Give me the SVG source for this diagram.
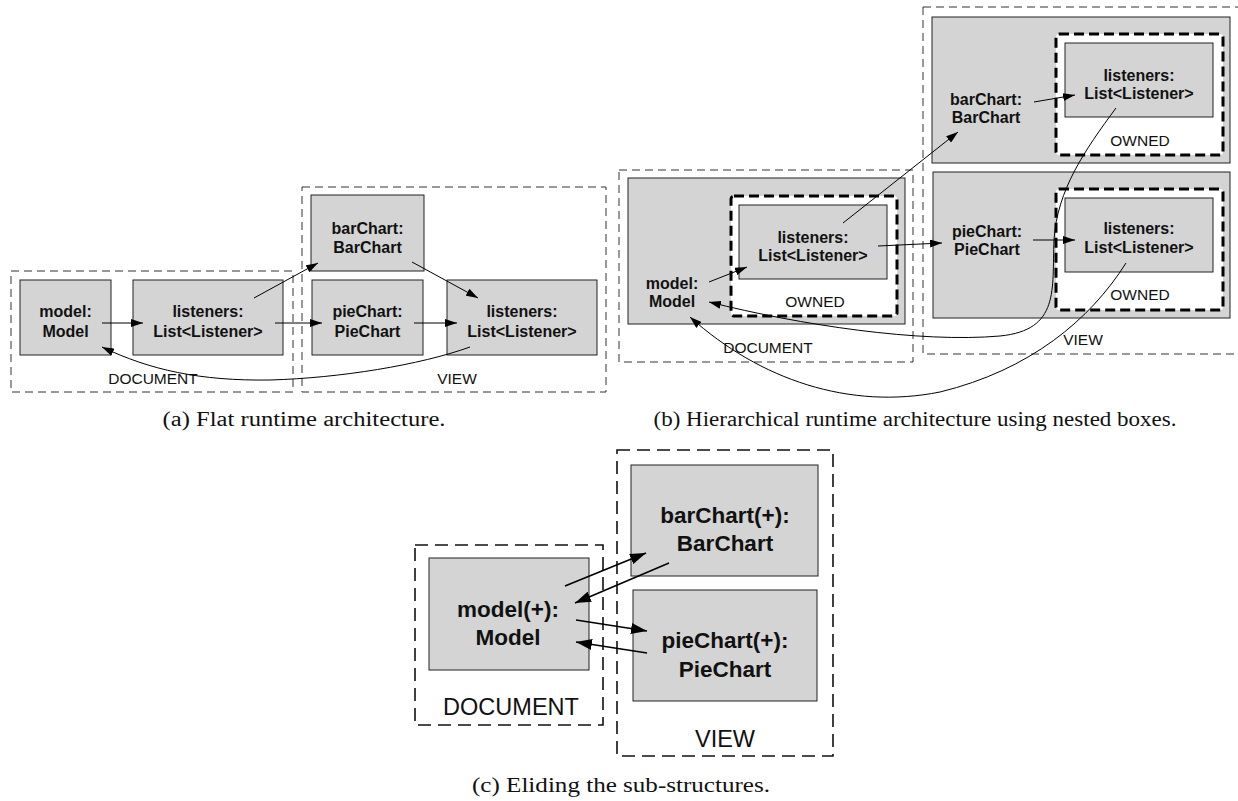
<svg xmlns="http://www.w3.org/2000/svg" width="1238" height="801" viewBox="0 0 1238 801">
  <style>
    .bg { fill: #ffffff; }
    .box { fill: #d4d4d4; stroke: #222222; stroke-width: 1; }
    .grp { fill: none; stroke: #333333; stroke-width: 1; stroke-dasharray: 8 5; }
    .grp-big { fill: none; stroke: #111111; stroke-width: 1.6; stroke-dasharray: 13 7; }
    .owned { fill: #ffffff; stroke: #000000; stroke-width: 3; stroke-dasharray: 10 5; }
    .lbl { font-family: "Liberation Sans", Arial, sans-serif; font-weight: bold; font-size: 16px; fill: #111111; text-anchor: middle; }
    .lbl-big { font-family: "Liberation Sans", Arial, sans-serif; font-weight: bold; font-size: 22.5px; fill: #111111; text-anchor: middle; }
    .tag { font-family: "Liberation Sans", Arial, sans-serif; font-size: 15.5px; fill: #111111; text-anchor: middle; }
    .tag-big { font-family: "Liberation Sans", Arial, sans-serif; font-size: 23.5px; fill: #111111; text-anchor: middle; }
    .cap { font-family: "Liberation Serif", "Times New Roman", serif; font-size: 20px; fill: #111111; text-anchor: middle; }
    .edge { fill: none; stroke: #000000; stroke-width: 1; marker-end: url(#head); }
    .edge-big { fill: none; stroke: #000000; stroke-width: 1.6; marker-end: url(#head-big); }
  </style>
  <defs>
    <marker id="head" viewBox="0 0 12 8" refX="12" refY="4" markerWidth="12" markerHeight="8" markerUnits="userSpaceOnUse" orient="auto">
      <path d="M0,0 L12,4 L0,8 z" fill="#000000"/>
    </marker>
    <marker id="head-big" viewBox="0 0 16 11" refX="16" refY="5.5" markerWidth="16" markerHeight="11" markerUnits="userSpaceOnUse" orient="auto">
      <path d="M0,0 L16,5.5 L0,11 z" fill="#000000"/>
    </marker>
  </defs>
  <rect class="bg" x="0" y="0" width="1238" height="801"/>

  <!-- ===== (a) flat layout ===== -->
  <g id="a-document">
    <rect class="grp" x="11" y="271" width="282" height="121"/>
    <text class="tag" x="153" y="384">DOCUMENT</text>
  </g>
  <g id="a-view">
    <rect class="grp" x="302" y="187" width="304" height="205"/>
    <text class="tag" x="457" y="384">VIEW</text>
  </g>
  <g id="a-model">
    <rect class="box" x="20" y="280" width="91" height="75"/>
    <text class="lbl" x="65.5" y="317">model:</text>
    <text class="lbl" x="65.5" y="337">Model</text>
  </g>
  <g id="a-doc-listeners">
    <rect class="box" x="133" y="280" width="150" height="75"/>
    <text class="lbl" x="208" y="317">listeners:</text>
    <text class="lbl" x="208" y="337">List&lt;Listener&gt;</text>
  </g>
  <g id="a-barchart">
    <rect class="box" x="311" y="195" width="113" height="76"/>
    <text class="lbl" x="367.5" y="234">barChart:</text>
    <text class="lbl" x="367.5" y="253">BarChart</text>
  </g>
  <g id="a-piechart">
    <rect class="box" x="312" y="280" width="111" height="75"/>
    <text class="lbl" x="367.5" y="317">pieChart:</text>
    <text class="lbl" x="367.5" y="337">PieChart</text>
  </g>
  <g id="a-view-listeners">
    <rect class="box" x="447" y="280" width="150" height="75"/>
    <text class="lbl" x="522" y="317">listeners:</text>
    <text class="lbl" x="522" y="337">List&lt;Listener&gt;</text>
  </g>
  <g id="a-connectors">
    <path class="edge" d="M102,323 L143,323"/>
    <path class="edge" d="M254,298 L318,263"/>
    <path class="edge" d="M275,323 L322,323"/>
    <path class="edge" d="M412,262 L478,298"/>
    <path class="edge" d="M414,323 L457,323"/>
    <path class="edge" d="M470,347 C420,365 340,378 270,380 C200,381 150,370 102,347"/>
  </g>
  <text class="cap" x="304" y="426" textLength="283" lengthAdjust="spacingAndGlyphs">(a) Flat runtime architecture.</text>

  <!-- ===== (b) nested layout ===== -->
  <g id="b-document">
    <rect class="grp" x="619" y="170" width="294" height="192"/>
    <text class="tag" x="768" y="353">DOCUMENT</text>
  </g>
  <g id="b-view">
    <rect class="grp" x="923" y="7" width="320" height="347"/>
    <text class="tag" x="1083" y="345">VIEW</text>
  </g>
  <g id="b-model">
    <rect class="box" x="628" y="178" width="277" height="146"/>
    <rect class="owned" x="731" y="196" width="166" height="120" rx="3"/>
    <text class="lbl" x="672" y="289">model:</text>
    <text class="lbl" x="672" y="307">Model</text>
    <text class="tag" x="815" y="306.5">OWNED</text>
  </g>
  <g id="b-doc-listeners">
    <rect class="box" x="739" y="205" width="148" height="74"/>
    <text class="lbl" x="813" y="243">listeners:</text>
    <text class="lbl" x="813" y="260.5">List&lt;Listener&gt;</text>
  </g>
  <g id="b-barchart">
    <rect class="box" x="932" y="17" width="298" height="146"/>
    <rect class="owned" x="1056" y="34" width="167" height="121" rx="3"/>
    <text class="lbl" x="986" y="105">barChart:</text>
    <text class="lbl" x="986" y="123">BarChart</text>
    <text class="tag" x="1140" y="146">OWNED</text>
  </g>
  <g id="b-bar-listeners">
    <rect class="box" x="1065" y="43" width="148" height="74"/>
    <text class="lbl" x="1139" y="81">listeners:</text>
    <text class="lbl" x="1139" y="98.5">List&lt;Listener&gt;</text>
  </g>
  <g id="b-piechart">
    <rect class="box" x="933" y="172" width="297" height="146"/>
    <rect class="owned" x="1056" y="189" width="167" height="121" rx="3"/>
    <text class="lbl" x="987" y="237">pieChart:</text>
    <text class="lbl" x="987" y="255">PieChart</text>
    <text class="tag" x="1140" y="300">OWNED</text>
  </g>
  <g id="b-pie-listeners">
    <rect class="box" x="1065" y="198" width="148" height="74"/>
    <text class="lbl" x="1139" y="234">listeners:</text>
    <text class="lbl" x="1139" y="252.5">List&lt;Listener&gt;</text>
  </g>
  <g id="b-connectors">
    <path class="edge" d="M709,282 L747,267"/>
    <path class="edge" d="M843,223 L958,132"/>
    <path class="edge" d="M878,246 L942,243"/>
    <path class="edge" d="M1034,102 L1075,95"/>
    <path class="edge" d="M1033,240 L1075,240"/>
    <path class="edge" d="M1116,108 C1085,150 1057,190 1054,240 C1052,290 1060,330 1000,336 C920,343 800,325 709,302"/>
    <path class="edge" d="M1126,263 C1090,320 1030,370 940,392 C850,410 760,380 690,317"/>
  </g>
  <text class="cap" x="915" y="426" textLength="523" lengthAdjust="spacingAndGlyphs">(b) Hierarchical runtime architecture using nested boxes.</text>

  <!-- ===== (c) elided layout ===== -->
  <g id="c-document">
    <rect class="grp-big" x="415" y="545" width="188" height="180"/>
    <text class="tag-big" x="511" y="715">DOCUMENT</text>
  </g>
  <g id="c-view">
    <rect class="grp-big" x="617" y="450" width="216" height="306"/>
    <text class="tag-big" x="725" y="747">VIEW</text>
  </g>
  <g id="c-model">
    <rect class="box" x="429" y="558" width="160" height="112"/>
    <text class="lbl-big" x="508" y="617">model(+):</text>
    <text class="lbl-big" x="508" y="645">Model</text>
  </g>
  <g id="c-barchart">
    <rect class="box" x="631" y="465" width="187" height="111"/>
    <text class="lbl-big" x="725" y="523">barChart(+):</text>
    <text class="lbl-big" x="725" y="551">BarChart</text>
  </g>
  <g id="c-piechart">
    <rect class="box" x="633" y="590" width="184" height="111"/>
    <text class="lbl-big" x="725" y="648">pieChart(+):</text>
    <text class="lbl-big" x="725" y="677">PieChart</text>
  </g>
  <g id="c-connectors">
    <path class="edge-big" d="M565,586 L646,553"/>
    <path class="edge-big" d="M669,563 L575,603"/>
    <path class="edge-big" d="M576,620 L647,631"/>
    <path class="edge-big" d="M647,653 L576,642"/>
  </g>
  <text class="cap" x="621" y="792" textLength="298" lengthAdjust="spacingAndGlyphs">(c) Eliding the sub-structures.</text>
</svg>
